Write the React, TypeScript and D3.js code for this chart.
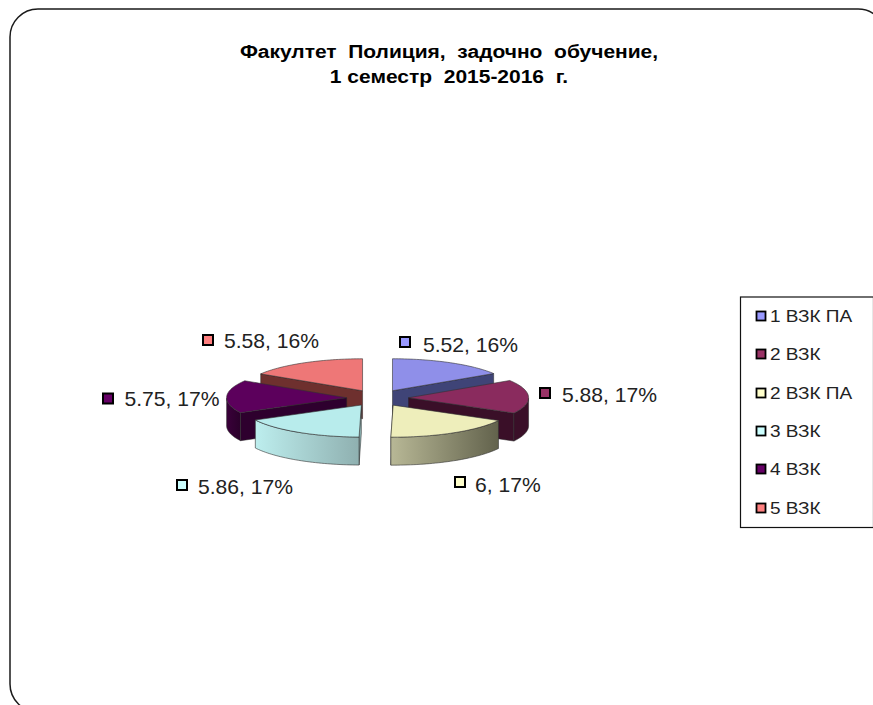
import React from "react";
import * as d3 from "d3";

const categories = ["1 ВЗК ПА", "2 ВЗК", "2 ВЗК ПА", "3 ВЗК", "4 ВЗК", "5 ВЗК"];
const values = [5.52, 5.88, 6, 5.86, 5.75, 5.58];
const percents = [16, 17, 17, 17, 17, 16];
const legendColors = ["#9999ff", "#993366", "#ffffcc", "#ccffff", "#660066", "#ff8080"];
const topColors = ["#8f8fe9", "#8a2b5e", "#eeeebb", "#b8ecec", "#5c005c", "#ee7777"];
const faceColors = ["#3f4477", "#3a0f28", "#6b6b52", "#8fb4b4", "#2e002e", "#6e302e"];
const wallLight = ["#8f8fe9", "#3a0f28", "#b8b896", "#bdeeee", "#3a003a", "#ee7777"];
const wallDark = ["#3f4477", "#3a0f28", "#62624c", "#8fb0b0", "#2a002a", "#6e302e"];
const labelPos = [[423, 351.5], [562, 401.5], [475, 491.5], [198, 493.5], [124.5, 406], [224, 348]];
const swatchPos = [[405, 342], [545, 393], [460, 482], [182, 485], [108, 398.5], [208, 340]];
const legendRowsY = [316, 354, 393, 431, 469, 508];
const titleLines = ["Факултет  Полиция,  задочно  обучение,", "1 семестр  2015-2016  г."];

const W = 873, H = 705;
const cx = 377.6, cy = 398, rx = 120, ry = 32, depth = 28, explode = 31;

const pie = d3.pie<number>().sort(null).startAngle(0).endAngle(2 * Math.PI);
const arcs = pie(values);
const xy = (a: number, r: number): [number, number] => [r * rx * Math.sin(a), -r * ry * Math.cos(a)];
const line = d3.line();

function sliceShapes(i: number) {
  const d = arcs[i];
  const mid = (d.startAngle + d.endAngle) / 2;
  const [ox, oy] = xy(mid, explode / rx);
  const ax = cx + ox, ay = cy + oy;
  const pts = d3.range(0, 41).map((k) => {
    const a = d.startAngle + ((d.endAngle - d.startAngle) * k) / 40;
    const [x, y] = xy(a, 1);
    return [ax + x, ay + y] as [number, number];
  });
  const apex: [number, number] = [ax, ay];
  const down = (p: [number, number]): [number, number] => [p[0], p[1] + depth];
  const top = line([apex, ...pts])! + "Z";
  const endFace = line([apex, pts[40], down(pts[40]), down(apex)])! + "Z";
  const startFace = line([apex, pts[0], down(pts[0]), down(apex)])! + "Z";
  const frontArc = d3.range(0, 41)
    .map((k) => d.startAngle + ((d.endAngle - d.startAngle) * k) / 40)
    .filter((a) => Math.cos(a) < 0.001)
    .map((a) => {
      const [x, y] = xy(a, 1);
      return [ax + x, ay + y] as [number, number];
    });
  const wall = frontArc.length > 1
    ? line([...frontArc, ...frontArc.slice().reverse().map(down)])! + "Z"
    : null;
  const xs = frontArc.map((p) => p[0]);
  return {
    top, wall,
    endFace: d.endAngle < Math.PI + 0.05 ? endFace : null,
    startFace: d.startAngle > Math.PI - 0.05 ? startFace : null,
    x0: d3.min(xs) ?? 0, x1: d3.max(xs) ?? 0,
  };
}

const drawOrder = [0, 5, 1, 4, 2, 3];

export default function App() {
  return (
    <svg width={W} height={H} viewBox={`0 0 ${W} ${H}`}
      style={{ position: "fixed", left: 0, top: 0, background: "#fff", display: "block" }}
      fontFamily="'Liberation Sans', Arial, sans-serif">
      <rect x={10} y={9} width={876} height={703} rx={28} ry={28} fill="#fff" stroke="#1a1a1a" strokeWidth={1.5} />
      {titleLines.map((t, i) => (
        <text key={i} transform={`translate(449,${57.5 + i * 25.5}) scale(1.135,1)`} textAnchor="middle" fontSize={18.5} fontWeight={700} fill="#000" style={{ whiteSpace: "pre" }}>{t}</text>
      ))}
      <defs>
        {values.map((_, i) => {
          const s = sliceShapes(i);
          return (
            <linearGradient key={i} id={`w${i}`} gradientUnits="userSpaceOnUse" x1={s.x0} x2={s.x1} y1={0} y2={0}>
              <stop offset="0" stopColor={wallLight[i]} />
              <stop offset="1" stopColor={wallDark[i]} />
            </linearGradient>
          );
        })}
      </defs>
      {drawOrder.map((i) => {
        const s = sliceShapes(i);
        return (
          <g key={i} strokeLinejoin="round">
            {s.startFace && <path d={s.startFace} fill={faceColors[i]} stroke="#222" strokeWidth={0.5} />}
            {s.endFace && <path d={s.endFace} fill={faceColors[i]} stroke="#222" strokeWidth={0.5} />}
            {s.wall && <path d={s.wall} fill={`url(#w${i})`} stroke="#333" strokeWidth={0.6} />}
            <path d={s.top} fill={topColors[i]} stroke="#333" strokeWidth={0.6} />
          </g>
        );
      })}
      {values.map((v, i) => (
        <g key={i}>
          <rect x={swatchPos[i][0] - 5} y={swatchPos[i][1] - 5} width={10} height={10} fill={legendColors[i]} stroke="#000" strokeWidth={2} />
          <text transform={`translate(${labelPos[i][0]},${labelPos[i][1]}) scale(1.046,1)`} fontSize={20.2} fill="#222" style={{ whiteSpace: "pre" }}>{`${v}, ${percents[i]}%`}</text>
        </g>
      ))}
      <rect x={740.5} y={297} width={133} height={230.5} fill="#fff" stroke="#111" strokeWidth={1.2} />
      {categories.map((c, i) => (
        <g key={c}>
          <rect x={756.5} y={legendRowsY[i] - 4.5} width={9} height={9} fill={legendColors[i]} stroke="#000" strokeWidth={1.8} />
          <text transform={`translate(770,${legendRowsY[i] + 6}) scale(1.12,1)`} fontSize={17} fill="#222">{c}</text>
        </g>
      ))}
    </svg>
  );
}
